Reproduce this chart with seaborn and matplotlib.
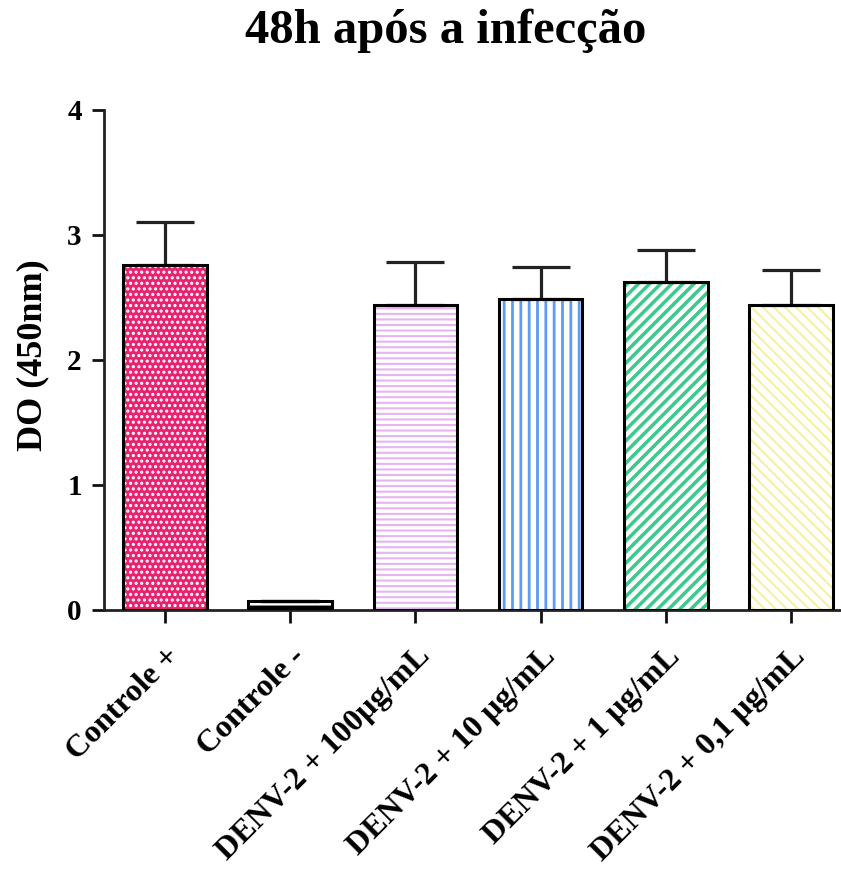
import matplotlib
matplotlib.use("Agg")
import matplotlib.pyplot as plt
import seaborn as sns
import pandas as pd
import numpy as np
from matplotlib.patches import Rectangle

categories = ["Controle +", "Controle -", "DENV-2 + 100µg/mL", "DENV-2 + 10 µg/mL",
              "DENV-2 + 1 µg/mL", "DENV-2 + 0,1 µg/mL"]
means = [2.76, 0.07, 2.44, 2.49, 2.62, 2.44]
errs = [0.34, 0.0, 0.34, 0.25, 0.26, 0.28]
yticks = [0, 1, 2, 3, 4]

face_colors = ["#e8226e", "#000000", "#ffffff", "#ffffff", "#ffffff", "#ffffff"]
hatch_colors = ["#ffffff", "#ffffff", "#e6b4f2", "#5c9cf2", "#3cc98c", "#f6f0a0"]
hatches = ["...", "--", "---", "||", "///", "\\\\\\"]
hatch_lw = [1.5, 2.0, 1.5, 2.0, 2.5, 1.5]

sns.set_theme(style="ticks")
plt.rcParams["font.family"] = ["Liberation Serif", "DejaVu Serif"]
plt.rcParams["font.weight"] = "bold"
plt.rcParams["text.color"] = "black"
plt.rcParams["xtick.color"] = "#111111"
plt.rcParams["ytick.color"] = "#111111"
plt.rcParams["xtick.labelcolor"] = "black"
plt.rcParams["ytick.labelcolor"] = "black"
plt.rcParams["axes.labelcolor"] = "black"

df = pd.DataFrame({"cat": categories, "val": means})

fig = plt.figure(figsize=(8.41, 8.84), dpi=100)
ax = fig.add_axes([0.1237, 0.31, 0.876, 0.5656])

sns.barplot(data=df, x="cat", y="val", ax=ax, width=0.67, errorbar=None,
            color="white", saturation=1)

for i, p in enumerate(ax.patches):
    p.set_facecolor(face_colors[i])
    p.set_edgecolor(hatch_colors[i])
    p.set_hatch(hatches[i])
    p.set_linewidth(0)
    if hasattr(p, "set_hatch_linewidth"):
        p.set_hatch_linewidth(hatch_lw[i])
    ax.add_patch(Rectangle((p.get_x(), p.get_y()), p.get_width(), p.get_height(),
                           fill=False, edgecolor="black", linewidth=2.2, zorder=3))

x = np.arange(len(categories))
lower = np.zeros(len(errs))
ax.errorbar(x, means, yerr=[lower, errs], fmt="none", ecolor="#222222",
            elinewidth=2.3, capsize=21, capthick=2.3, zorder=2)

ax.set_ylim(0, 4)
ax.set_xlim(-0.49, 5.4)
ax.set_yticks(yticks)
ax.set_yticklabels([str(t) for t in yticks], fontsize=21, fontweight="bold")
ax.set_xticks(x)
ax.set_xticklabels(categories, rotation=45, ha="right", rotation_mode="anchor",
                   fontsize=23, fontweight="bold")
ax.tick_params(axis="x", length=9, width=2, pad=14)
ax.tick_params(axis="y", length=9, width=2, pad=7)
for s in ["top", "right"]:
    ax.spines[s].set_visible(False)
for s in ["left", "bottom"]:
    ax.spines[s].set_linewidth(2)
    ax.spines[s].set_color("#222222")

ax.set_xlabel("")
ax.set_ylabel("DO (450nm)", fontsize=26, fontweight="bold")
ax.yaxis.set_label_coords(-0.074, 0.51)
fig.suptitle("48h após a infecção", fontsize=35, fontweight="bold", x=0.53, y=0.99, va="top")

fig.savefig("out.png", dpi=100)
